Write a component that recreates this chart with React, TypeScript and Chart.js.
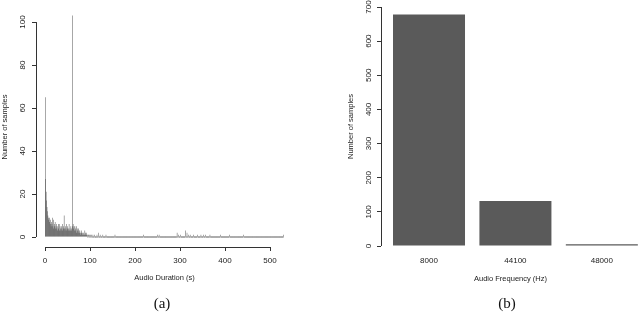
import React, { useEffect, useRef } from 'react';
import { Chart, registerables } from 'chart.js';

Chart.register(...registerables);

// ---- Data: panel (a) histogram of audio durations (1-second bins) ----
const durationCountsFirst100 = [
  65, 27, 21, 17, 14, 12, 10, 9, 8, 7,
  9, 6, 8, 5, 7, 6, 9, 5, 8, 4,
  6, 5, 7, 4, 5, 6, 4, 3, 5, 6,
  4, 6, 3, 5, 4, 3, 5, 4, 6, 3,
  4, 5, 10, 4, 3, 5, 4, 6, 3, 4,
  5, 3, 4, 6, 3, 4, 3, 5, 4, 3,
  103, 5, 6, 4, 5, 3, 5, 4, 3, 5,
  2, 4, 3, 2, 4, 3, 2, 3, 2, 1,
  3, 2, 1, 2, 1, 2, 1, 1, 3, 2,
  1, 2, 1, 1, 0, 1, 1, 0, 1, 0,
  1,
];
const tailDurations = [103, 106, 110, 115, 118, 122, 128, 135, 155, 218, 249, 253, 293, 296, 300, 312, 315, 318, 322, 330, 338, 346, 352, 356, 366, 389, 409, 440, 530];
const tailCounts = [1, 1, 1, 1, 2, 1, 1, 1, 1, 1, 1, 1, 2, 1, 1, 3, 2, 1, 1, 1, 1, 1, 1, 1, 1, 1, 1, 1, 1];
const maxDuration = 530;
const durationTicks = [0, 100, 200, 300, 400, 500];
const durationCountTicks = [0, 20, 40, 60, 80, 100];

// ---- Data: panel (b) audio frequency counts ----
const freqLabels = ['8000', '44100', '48000'];
const freqCounts = [678, 132, 5];
const freqCountTicks = [0, 100, 200, 300, 400, 500, 600, 700];

const SANS = "'Liberation Sans', Arial, Helvetica, sans-serif";
const TEXT = '#222';
const AXIS = '#333';

function buildHistogram() {
  const counts: number[] = [];
  for (let i = 0; i <= maxDuration; i++) counts.push(i < durationCountsFirst100.length ? durationCountsFirst100[i] : 0);
  tailDurations.forEach((d, i) => { counts[d] = tailCounts[i]; });
  return counts.map((c, i) => ({ x: i + 0.5, y: c }));
}

const barCenter = (i: number) => 0.7 + 1.2 * i; // R barplot layout: width 1, space 0.2

const rAxesPlugin = {
  id: 'rAxes',
  afterDraw(chart: any, _args: any, opts: any) {
    const ctx = chart.ctx;
    const { left, bottom } = chart.chartArea;
    const ys = chart.scales.y;
    ctx.save();
    ctx.strokeStyle = AXIS;
    ctx.lineWidth = 1;
    const yt = ys.ticks;
    const ax = Math.round(left) + 0.5;
    ctx.beginPath();
    ctx.moveTo(ax, ys.getPixelForValue(yt[0].value));
    ctx.lineTo(ax, ys.getPixelForValue(yt[yt.length - 1].value));
    ctx.stroke();
    if (opts.xLine) {
      const xs = chart.scales.x;
      const xt = xs.ticks;
      const ay = Math.round(bottom) + 0.5;
      ctx.beginPath();
      ctx.moveTo(xs.getPixelForValue(xt[0].value), ay);
      ctx.lineTo(xs.getPixelForValue(xt[xt.length - 1].value), ay);
      ctx.stroke();
    }
    // rotated y tick labels (R style)
    ctx.fillStyle = TEXT;
    ctx.font = `8px ${SANS}`;
    ctx.textAlign = 'center';
    ctx.textBaseline = 'middle';
    yt.forEach((t: any) => {
      ctx.save();
      ctx.translate(left - opts.labelOffset, ys.getPixelForValue(t.value));
      ctx.rotate(-Math.PI / 2);
      ctx.fillText(String(t.value), 0, 0);
      ctx.restore();
    });
    ctx.restore();
  },
};

function App() {
  const refA = useRef<HTMLCanvasElement>(null);
  const refB = useRef<HTMLCanvasElement>(null);

  useEffect(() => {
    const hist = buildHistogram();
    const chartA = new Chart(refA.current!, {
      type: 'bar',
      data: {
        datasets: [{
          data: hist,
          backgroundColor: '#3e3e3e',
          borderWidth: 0,
          inflateAmount: 0,
          barPercentage: 1,
          categoryPercentage: 1,
          minBarLength: 1,
        }],
      },
      options: {
        animation: false,
        responsive: false,
        events: [],
        layout: { padding: { left: 0, top: 7, right: 7, bottom: 0 } },
        plugins: { legend: { display: false }, tooltip: { enabled: false }, rAxes: { xLine: true, labelOffset: 13 } } as any,
        scales: {
          x: {
            type: 'linear',
            offset: false,
            min: -20,
            max: 551,
            afterBuildTicks: (s: any) => { s.ticks = durationTicks.map((v) => ({ value: v })); },
            afterFit: (s: any) => { s.height = 53; },
            grid: { display: true, offset: false, drawOnChartArea: false, drawTicks: true, tickLength: 4, color: AXIS },
            border: { display: false },
            ticks: { autoSkip: false, maxRotation: 0, padding: 5, color: TEXT, font: { family: SANS, size: 8 } },
            title: { display: true, text: 'Audio Duration (s)', color: TEXT, font: { family: SANS, size: 7.5 }, padding: { top: 0, bottom: 17.5 } },
          },
          y: {
            min: -4.65,
            max: 107,
            afterBuildTicks: (s: any) => { s.ticks = durationCountTicks.map((v) => ({ value: v })); },
            afterFit: (s: any) => { s.width = 36; },
            grid: { display: true, drawOnChartArea: false, drawTicks: true, tickLength: 4, color: AXIS },
            border: { display: false },
            ticks: { display: false },
            title: { display: true, text: 'Number of samples', color: TEXT, font: { family: SANS, size: 7.5 }, padding: { top: 0, bottom: 0 } },
          },
        },
      },
      plugins: [rAxesPlugin],
    } as any);

    const chartB = new Chart(refB.current!, {
      type: 'bar',
      data: {
        datasets: [{
          data: freqCounts.map((v, i) => ({ x: barCenter(i), y: v })),
          backgroundColor: '#5a5a5a',
          borderWidth: 0,
          barPercentage: 1 / 1.2,
          categoryPercentage: 1,
        }],
      },
      options: {
        animation: false,
        responsive: false,
        events: [],
        layout: { padding: { left: 16, top: 7, right: 0, bottom: 0 } },
        plugins: { legend: { display: false }, tooltip: { enabled: false }, rAxes: { xLine: false, labelOffset: 12 } } as any,
        scales: {
          x: {
            type: 'linear',
            offset: false,
            min: 0.0333,
            max: 3.63,
            afterBuildTicks: (s: any) => { s.ticks = freqLabels.map((_, i) => ({ value: barCenter(i) })); },
            afterFit: (s: any) => { s.height = 54; },
            grid: { display: false, offset: false, drawTicks: false },
            border: { display: false },
            ticks: {
              autoSkip: false, maxRotation: 0, padding: 10, color: TEXT, font: { family: SANS, size: 8 },
              callback: (_v: any, idx: number) => freqLabels[idx],
            },
            title: { display: true, text: 'Audio Frequency (Hz)', color: TEXT, font: { family: SANS, size: 7.5 }, padding: { top: 0, bottom: 17 } },
          },
          y: {
            min: 0,
            max: 700,
            afterBuildTicks: (s: any) => { s.ticks = freqCountTicks.map((v) => ({ value: v })); },
            afterFit: (s: any) => { s.width = 35; },
            grid: { display: true, drawOnChartArea: false, drawTicks: true, tickLength: 4, color: AXIS },
            border: { display: false },
            ticks: { display: false },
            title: { display: true, text: 'Number of samples', color: TEXT, font: { family: SANS, size: 7.5 }, padding: { top: 0, bottom: 0 } },
          },
        },
      },
      plugins: [rAxesPlugin],
    } as any);

    return () => { chartA.destroy(); chartB.destroy(); };
  }, []);

  const caption: React.CSSProperties = {
    position: 'absolute', top: 303, transform: 'translate(-50%, -50%)',
    fontFamily: "'Liberation Serif', 'DejaVu Serif', serif", fontSize: 15, color: '#111', lineHeight: 1,
  };

  return (
    <div style={{ position: 'absolute', left: 0, top: 0, width: 640, height: 316, overflow: 'hidden', background: '#fff' }}>
      <canvas ref={refA} width={300} height={300} style={{ position: 'absolute', left: 0, top: 0, width: 300, height: 300 }} />
      <canvas ref={refB} width={310} height={300} style={{ position: 'absolute', left: 330, top: 0, width: 310, height: 300 }} />
      <div style={{ ...caption, left: 162 }}>(a)</div>
      <div style={{ ...caption, left: 507 }}>(b)</div>
    </div>
  );
}

export default App;
